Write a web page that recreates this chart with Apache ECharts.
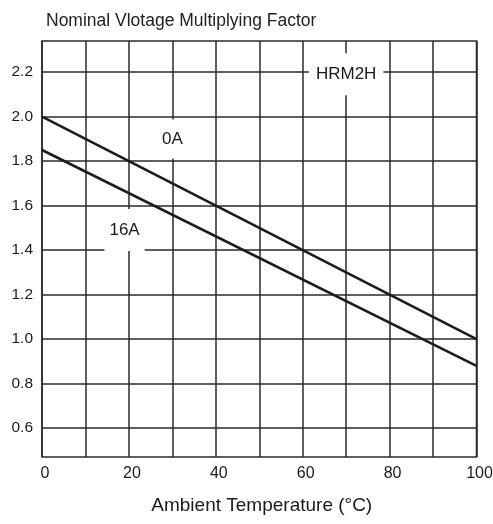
<!DOCTYPE html>
<html><head><meta charset="utf-8">
<script src="https://cdn.jsdelivr.net/npm/echarts@6/dist/echarts.min.js"></script>
<style>html,body{margin:0;padding:0;background:#fff}#c{width:493px;height:524px}</style>
</head><body><div id="c"></div>
<script>
// Data
const temps = [0, 100];
const factor0A = [2.0, 1.0];
const factor16A = [1.85, 0.88];
const yTicks = [0.6, 0.8, 1.0, 1.2, 1.4, 1.6, 1.8, 2.0, 2.2];
const xTicks = [0, 20, 40, 60, 80, 100];
const noteNames = ['0A', '16A', 'HRM2H'];
const noteX = [30, 19, 70];
const noteY = [1.9, 1.49, 2.19];

const FONT = "'Liberation Sans', Arial, sans-serif";
const notePad = [[10.5, 16], [12, 5], [12, 7]];

const chart = echarts.init(document.getElementById('c'));
chart.setOption({
  animation: false,
  backgroundColor: '#fff',
  title: {
    text: 'Nominal Vlotage Multiplying Factor',
    left: 41, top: 7,
    textStyle: { fontFamily: FONT, fontSize: 17.5, fontWeight: 'normal', color: '#222' }
  },
  grid: {
    left: 42, right: 16.5, top: 41, bottom: 67,
    outerBoundsMode: 'none', containLabel: false,
    show: true, borderColor: '#2a2a2a', borderWidth: 1.5, backgroundColor: 'transparent'
  },
  xAxis: {
    type: 'value', min: 0, max: 100, interval: 10,
    axisLine: { show: false },
    axisTick: { show: false },
    splitLine: { show: true, lineStyle: { color: '#2a2a2a', width: 1.5 } },
    axisLabel: {
      customValues: xTicks, margin: 9, padding: [0, 0, 0, 6],
      fontFamily: FONT, fontSize: 16, color: '#1a1a1a'
    },
    name: 'Ambient Temperature (°C)',
    nameLocation: 'middle', nameGap: 39,
    nameTextStyle: { fontFamily: FONT, fontSize: 19, color: '#1a1a1a', padding: [0, 0, 0, 5] }
  },
  yAxis: {
    type: 'value', min: 0.47, max: 2.34,
    axisLine: { show: false },
    axisTick: { show: false, customValues: yTicks },
    splitLine: { show: true, lineStyle: { color: '#2a2a2a', width: 1.5 } },
    axisLabel: {
      customValues: yTicks, margin: 9,
      fontFamily: FONT, fontSize: 15.5, color: '#1a1a1a',
      formatter: v => v.toFixed(1)
    }
  },
  series: [
    {
      type: 'line', name: '0A', showSymbol: false, z: 3,
      data: temps.map((t, i) => [t, factor0A[i]]),
      lineStyle: { color: '#1c1c1c', width: 2.6 }
    },
    {
      type: 'line', name: '16A', showSymbol: false, z: 3,
      data: temps.map((t, i) => [t, factor16A[i]]),
      lineStyle: { color: '#1c1c1c', width: 2.6 }
    },
    {
      type: 'scatter', symbolSize: 0, z: 5, silent: true,
      itemStyle: { opacity: 1 },
      data: noteNames.map((n, i) => ({
        name: n, value: [noteX[i], noteY[i]],
        label: {
          show: true, position: 'inside', formatter: n, opacity: 1,
          fontFamily: FONT, fontSize: 17, color: '#1a1a1a', lineHeight: 18,
          backgroundColor: '#fff', padding: notePad[i]
        }
      }))
    }
  ]
});
</script>
</body></html>
